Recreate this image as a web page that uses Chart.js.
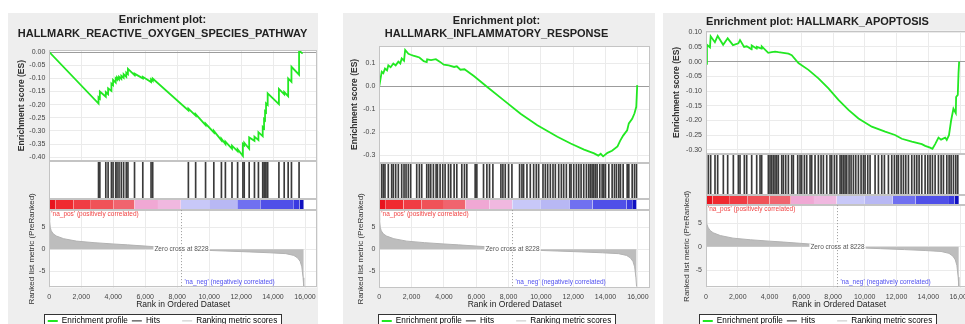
<!DOCTYPE html>
<html>
<head>
<meta charset="utf-8">
<script src="https://cdn.jsdelivr.net/npm/chart.js@4.4.1/dist/chart.umd.min.js"></script>
<style>
  body { margin: 0; width: 965px; height: 324px; overflow: hidden; background: #fff; position: relative; }
  canvas { position: absolute; background: #eeeeee; }
</style>
</head>
<body>
<canvas id="p1" width="310" height="322" style="left:8px;top:13px"></canvas>
<canvas id="p2" width="312" height="322" style="left:343px;top:13px"></canvas>
<canvas id="p3" width="312" height="322" style="left:663px;top:13px"></canvas>
<script>
// shared ranked list
const xTicks = [0, 2000, 4000, 6000, 8000, 10000, 12000, 14000, 16000];
const zeroCross = 8228;
const metricRank  = [0, 20, 60, 120, 250, 450, 900, 1700, 2800, 4000, 4900, 6500, 7500, 8228, 9500, 11000, 12500, 13800, 14800, 15300, 15550, 15700, 15800, 15880, 15920];
const metricScore = [8.6, 6.5, 5.0, 4.2, 3.5, 3.0, 2.4, 1.85, 1.5, 1.2, 1.0, 0.6, 0.3, 0, -0.2, -0.4, -0.6, -0.8, -1.0, -1.4, -2.0, -2.8, -4.0, -6.5, -8.5];
const metricTicks = [-5, 0, 5];
const bandEdges  = [0, 400, 1500, 2600, 4000, 5335, 6800, 8228, 10000, 11760, 13200, 15300, 15650, 15920];
const bandColors = ['#e8141e', '#f02a30', '#f03c44', '#f05258', '#f0646e', '#f0a8d4', '#f0b8e0', '#c8c8f8', '#b8b8f4', '#7070f0', '#5050e8', '#3a3ae0', '#1010c0'];
const legendNames = ['Enrichment profile', 'Hits', '', 'Ranking metric scores'];

// panel 1: reactive oxygen species
const es1 = [[0,0],[3080,-0.196],[3080,-0.172],[3163,-0.177],[3163,-0.150],[3535,-0.170],[3535,-0.152],[3680,-0.160],[3680,-0.138],
  [3887,-0.148],[3887,-0.120],[3990,-0.126],[3990,-0.106],[4155,-0.116],[4155,-0.100],[4238,-0.105],[4238,-0.096],[4362,-0.104],[4362,-0.094],
  [4506,-0.102],[4506,-0.090],[4651,-0.098],[4651,-0.084],[4816,-0.094],[4816,-0.078],[4920,-0.084],[4920,-0.064],[5333,-0.088],[5333,-0.082],
  [5850,-0.100],[5850,-0.094],[6367,-0.114],[6367,-0.104],[6470,-0.110],[6470,-0.101],[8702,-0.222],[8702,-0.215],[9157,-0.242],[9157,-0.236],
  [9777,-0.278],[9777,-0.272],[10294,-0.306],[10294,-0.300],[10770,-0.336],[10770,-0.330],[11018,-0.350],[11018,-0.341],[11431,-0.368],[11431,-0.356],
  [11783,-0.378],[11783,-0.370],[12114,-0.395],[12114,-0.350],[12196,-0.355],[12196,-0.345],[12506,-0.368],[12506,-0.325],[12837,-0.338],[12837,-0.322],
  [13085,-0.335],[13085,-0.305],[13354,-0.320],[13354,-0.285],[13437,-0.290],[13437,-0.255],[13499,-0.259],[13499,-0.225],[13561,-0.229],[13561,-0.195],
  [13664,-0.201],[13664,-0.157],[14367,-0.198],[14367,-0.140],[14698,-0.161],[14698,-0.152],[14946,-0.168],[14946,-0.100],[15152,-0.113],[15152,-0.056],
  [15628,-0.086],[15628,0.006],[15850,-0.006]];
const hits1 = [3080, 3163, 3535, 3680, 3887, 3990, 4155, 4238, 4362, 4506, 4651, 4816, 4920, 5333, 5850, 6367, 6470, 8702, 9157, 9777, 10294,
  10770, 11018, 11431, 11783, 12114, 12196, 12506, 12837, 13085, 13354, 13437, 13499, 13561, 13664, 14367, 14698, 14946, 15152, 15628];
const es1Ticks = [0, -0.05, -0.1, -0.15, -0.2, -0.25, -0.3, -0.35, -0.4];

// panel 2: inflammatory response
const es2 = [[0,0],[150,0.062],[248,0.056],[351,0.076],[480,0.068],[558,0.090],[700,0.082],[868,0.098],[1013,0.090],[1178,0.106],[1300,0.098],
  [1385,0.120],[1530,0.110],[1600,0.157],[1800,0.140],[1943,0.136],[2100,0.132],[2315,0.128],[2480,0.124],[2750,0.108],[2935,0.104],[2960,0.116],
  [3200,0.113],[3500,0.117],[3760,0.105],[3990,0.093],[4300,0.090],[4630,0.083],[4795,0.086],[5020,0.071],[5271,0.073],[5850,0.044],[6680,-0.004],
  [7710,-0.062],[8740,-0.120],[9780,-0.170],[11020,-0.220],[11840,-0.249],[12670,-0.276],[13290,-0.292],[13550,-0.302],[13700,-0.294],[13850,-0.305],
  [14120,-0.290],[14400,-0.281],[14740,-0.262],[14900,-0.238],[15089,-0.215],[15337,-0.192],[15440,-0.162],[15647,-0.142],[15792,-0.118],[15900,-0.090],[15960,0.004]];
const hits2 = [145, 248, 351, 558, 765, 868, 1013, 1178, 1385, 1530, 1654, 1798, 1943, 2315, 2480, 2625, 2935, 3059, 3183, 3348, 3514, 3597, 3762,
  3927, 4072, 4279, 4423, 4630, 4795, 5105, 5271, 5416, 5932, 6036, 6449, 6656, 6821, 7028, 7524, 7648, 7793, 7999, 8206, 8681, 8826, 8929, 9136,
  9343, 9550, 9715, 9860, 10129, 10273, 10418, 10583, 10748, 10893, 11100, 11265, 11410, 11575, 11782, 11865, 12030, 12195, 12340, 12485, 12650,
  12815, 12960, 13063, 13167, 13270, 13373, 13477, 13642, 13787, 13890, 13994, 14200, 14407, 14552, 14676, 14820, 14924, 15089, 15337, 15440,
  15647, 15792, 15916];
const es2Ticks = [0.1, 0, -0.1, -0.2, -0.3];

// panel 3: apoptosis
const es3 = [[0,0],[60,-0.004],[60,0.057],[250,0.048],[294,0.086],[560,0.066],[735,0.087],[1080,0.057],[1365,0.079],[1700,0.056],[2040,0.062],
  [2142,0.073],[2400,0.050],[2562,0.052],[2870,0.042],[2877,0.055],[3190,0.044],[3200,0.050],[3500,0.044],[3510,0.052],[3920,0.030],[4140,0.032],
  [4350,0.034],[4560,0.032],[4870,0.030],[5190,0.027],[5400,0.022],[5820,-0.005],[6450,-0.028],[7080,-0.057],[7710,-0.091],[8340,-0.130],
  [8970,-0.164],[9600,-0.193],[10440,-0.221],[11280,-0.238],[11900,-0.249],[12330,-0.262],[12960,-0.272],[13590,-0.280],[13800,-0.286],
  [14110,-0.292],[14260,-0.296],[14430,-0.280],[14640,-0.258],[14800,-0.265],[15060,-0.258],[15160,-0.266],[15300,-0.250],[15435,-0.200],
  [15580,-0.160],[15730,-0.175],[15750,-0.120],[15855,-0.113],[15900,-0.040],[15940,0.0]];
const hits3 = [147, 294, 567, 735, 1092, 1365, 1722, 2037, 2142, 2415, 2562, 2877, 3192, 3402, 3507, 3927, 4032, 4137, 4242, 4347, 4452, 4557,
  4767, 4872, 5019, 5187, 5397, 5502, 5775, 5922, 6027, 6195, 6342, 6552, 6657, 6867, 7077, 7245, 7392, 7602, 7812, 7917, 8085, 8232, 8442, 8547,
  8652, 8757, 8862, 9009, 9135, 9282, 9429, 9597, 9765, 9912, 10017, 10185, 10332, 10647, 10857, 11067, 11235, 11487, 11697, 11865, 12012, 12117,
  12285, 12432, 12579, 12747, 12957, 13125, 13272, 13419, 13587, 13797, 13965, 14112, 14259, 14427, 14637, 14805, 14952, 15162, 15309, 15435,
  15582, 15729, 15855];
const es3Ticks = [0.1, 0.05, 0, -0.05, -0.1, -0.15, -0.2, -0.25, -0.3];

Chart.defaults.font.family = "'Liberation Sans', Arial, sans-serif";
Chart.defaults.color = '#333';

// frames, white plot background, zero-cross marks and legend box
const gseaDecor = {
  id: 'gseaDecor',
  beforeDraw(chart) {
    const { ctx, chartArea: a, legend } = chart;
    ctx.save();
    ctx.fillStyle = '#fff';
    ctx.fillRect(a.left, a.top, a.width, a.height);
    const hb = legend.legendHitBoxes;
    if (hb && hb.length) {
      const l = Math.round(Math.min(...hb.map(h => h.left)) - 4);
      const r = Math.round(Math.max(...hb.map(h => h.left + h.width)) + 4);
      const t = Math.round(hb[0].top - 3);
      const b = Math.round(hb[0].top + hb[0].height + 3);
      ctx.fillRect(l, t, r - l, b - t);
      ctx.strokeStyle = '#333';
      ctx.lineWidth = 1;
      ctx.strokeRect(l + 0.5, t + 0.5, r - l, b - t);
    }
    ctx.restore();
  },
  beforeDatasetsDraw(chart) {
    const { ctx, chartArea: a, scales: s } = chart;
    ctx.save();
    ctx.fillStyle = '#fff';
    ctx.fillRect(a.left, s.yHit.top, a.width, s.yBand.bottom - s.yHit.top);
    ctx.restore();
  },
  afterDatasetsDraw(chart) {
    const { ctx, chartArea: a, scales: s } = chart;
    ctx.save();
    ctx.strokeStyle = '#c4c4c4';
    ctx.lineWidth = 1;
    ['yES', 'yHit', 'yBand', 'yMet'].forEach(k => {
      const t = Math.round(s[k].top), b = Math.round(s[k].bottom);
      ctx.strokeRect(Math.round(a.left) + 0.5, t + 0.5, Math.round(a.width) - 1, b - t - 1);
    });
    const zx = Math.round(s.x.getPixelForValue(zeroCross)) + 0.5;
    const zy = s.yMet.getPixelForValue(0);
    ctx.strokeStyle = '#999';
    ctx.setLineDash([1, 2]);
    ctx.beginPath();
    ctx.moveTo(zx, s.yMet.top);
    ctx.lineTo(zx, s.yMet.bottom);
    ctx.stroke();
    ctx.setLineDash([]);
    ctx.font = "6.5px 'Liberation Sans', Arial, sans-serif";
    ctx.textBaseline = 'middle';
    const zt = 'Zero cross at ' + zeroCross;
    const zw = ctx.measureText(zt).width;
    ctx.fillStyle = '#fff';
    ctx.fillRect(zx - zw / 2 - 1, zy - 3, zw + 2, 6);
    ctx.fillStyle = '#555';
    ctx.textAlign = 'center';
    ctx.fillText(zt, zx, zy);
    ctx.textAlign = 'left';
    ctx.fillStyle = '#f04444';
    ctx.fillText("'na_pos' (positively correlated)", a.left + 2, s.yMet.top + 4);
    ctx.fillStyle = '#5050f0';
    ctx.fillText("'na_neg' (negatively correlated)", zx + 3, s.yMet.bottom - 5);
    ctx.restore();
  }
};

function buildPanel(id, p) {
  const fixW = s => { s.width = p.axisW; };
  const hidden = (w) => ({
    position: 'left', stack: 'gsea', stackWeight: w, min: 0, max: 1,
    ticks: { display: false }, grid: { display: false }, border: { display: false }, afterFit: fixW
  });
  return new Chart(document.getElementById(id), {
    type: 'line',
    data: {
      datasets: [
        { label: 'Enrichment profile', data: p.es.map(d => ({ x: d[0], y: d[1] })), yAxisID: 'yES',
          borderColor: '#22e822', borderWidth: 1.8, pointRadius: 0, tension: 0, fill: false },
        { type: 'bar', label: 'Hits', data: p.hits.map(r => ({ x: r, y: 1 })), yAxisID: 'yHit',
          backgroundColor: '#3a3a3a', barThickness: 1, borderWidth: 0 },
        { label: 'band', data: bandEdges.map(r => ({ x: r, y: 1 })), yAxisID: 'yBand',
          borderWidth: 0, borderColor: 'rgba(0,0,0,0)', pointRadius: 0, fill: 'origin',
          backgroundColor: bandColors[0], segment: { backgroundColor: c => bandColors[c.p0DataIndex] } },
        { label: 'Ranking metric scores', data: metricRank.map((r, i) => ({ x: r, y: metricScore[i] })), yAxisID: 'yMet',
          borderColor: '#b2b2b2', borderWidth: 1, backgroundColor: '#bdbdbd', fill: 'origin', pointRadius: 0, tension: 0 }
      ]
    },
    options: {
      responsive: false,
      animation: false,
      layout: { padding: { left: 0, right: p.padRight, top: 0, bottom: 0 } },
      plugins: {
        title: { display: true, text: p.title, color: '#222',
          font: { size: 11, weight: 'bold', lineHeight: p.titleLH }, padding: p.titlePad },
        legend: {
          position: 'bottom',
          onClick: null,
          labels: {
            usePointStyle: true, pointStyleWidth: 10, boxHeight: 8, padding: 4,
            font: { size: 8.2 }, color: '#222',
            generateLabels: () => legendNames.map((t, i) => ({
              text: t, pointStyle: 'line', hidden: false, datasetIndex: i,
              strokeStyle: ['#22e822', '#222', 'rgba(0,0,0,0)', '#c4c4c4'][i],
              fillStyle: 'rgba(0,0,0,0)', lineWidth: i === 0 ? 2 : 1
            }))
          }
        },
        tooltip: { enabled: false }
      },
      scales: {
        x: {
          type: 'linear', min: 0, max: 16750, offset: false,
          afterBuildTicks: s => { s.ticks = xTicks.map(v => ({ value: v })); },
          ticks: { font: { size: 7 }, color: '#444', padding: 5, maxRotation: 0, autoSkip: false,
            callback: v => v.toLocaleString('en-US') },
          grid: { color: '#ebebeb', drawTicks: false, offset: false },
          border: { display: false },
          title: { display: true, text: 'Rank in Ordered Dataset', color: '#222', font: { size: 8.5 },
            padding: { top: 0, bottom: 3.5 } },
          afterFit: s => { s.height = 25.3; s.paddingLeft = 0; s.paddingRight = 0; }
        },
        yMet: {
          type: 'linear', position: 'left', stack: 'gsea', stackWeight: p.w[3], min: -8.7, max: 8.9,
          afterBuildTicks: s => { s.ticks = metricTicks.map(v => ({ value: v })); },
          ticks: { font: { size: 7 }, color: '#444', padding: 4, autoSkip: false },
          grid: { color: '#ebebeb', drawTicks: false },
          border: { display: false },
          title: { display: true, text: 'Ranked list metric (PreRanked)', color: '#333', font: { size: 8 },
            padding: { top: p.metTitlePad, bottom: 0 } },
          afterFit: fixW
        },
        yBand: hidden(p.w[2]),
        yHit: hidden(p.w[1]),
        yES: {
          type: 'linear', position: 'left', stack: 'gsea', stackWeight: p.w[0], min: p.esMin, max: p.esMax,
          afterBuildTicks: s => { s.ticks = p.esTicks.map(v => ({ value: v })); },
          ticks: { font: { size: 7 }, color: '#444', padding: 4, autoSkip: false, callback: v => v.toFixed(p.esDigits) },
          grid: { color: c => (c.tick && Math.abs(c.tick.value) < 1e-9) ? '#9c9c9c' : '#ebebeb', drawTicks: false },
          border: { display: false },
          title: { display: true, text: 'Enrichment score (ES)', color: '#333', font: { size: 8.5, weight: 'bold' },
            padding: { top: p.esTitlePad, bottom: 0 } },
          afterFit: fixW
        }
      }
    },
    plugins: [gseaDecor]
  });
}

buildPanel('p1', {
  title: ['Enrichment plot:', 'HALLMARK_REACTIVE_OXYGEN_SPECIES_PATHWAY'], titleLH: '14px', titlePad: { top: 0, bottom: 9 },
  es: es1, hits: hits1, esTicks: es1Ticks, esMin: -0.415, esMax: 0.008, esDigits: 2,
  axisW: 41.3, padRight: 1, w: [111, 38.3, 10.7, 77.3], esTitlePad: 8.6, metTitlePad: 18.9
});
buildPanel('p2', {
  title: ['Enrichment plot:', 'HALLMARK_INFLAMMATORY_RESPONSE'], titleLH: '13px', titlePad: { top: 1.5, bottom: 5.5 },
  es: es2, hits: hits2, esTicks: es2Ticks, esMin: -0.333, esMax: 0.174, esDigits: 1,
  axisW: 36.3, padRight: 5, w: [116.7, 36.6, 10.7, 77.3], esTitlePad: 6.9, metTitlePad: 12.9
});
buildPanel('p3', {
  title: ['Enrichment plot: HALLMARK_APOPTOSIS'], titleLH: '13px', titlePad: { top: 2.5, bottom: 2.2 },
  es: es3, hits: hits3, esTicks: es3Ticks, esMin: -0.314, esMax: 0.105, esDigits: 2,
  axisW: 43, padRight: 3, w: [123.3, 41, 10, 82.3], esTitlePad: 8.6, metTitlePad: 18.9
});
</script>
</body>
</html>
